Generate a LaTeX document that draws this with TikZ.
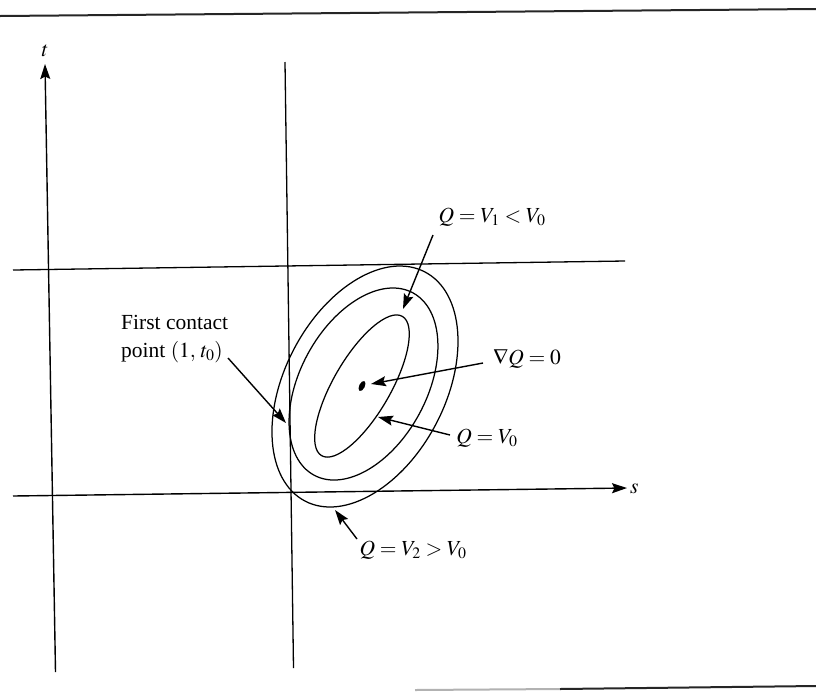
\documentclass[tikz,border=0pt]{standalone}
\usepackage{mathptmx}
\usepackage{fontspec}
\setmainfont{Liberation Serif}
\usetikzlibrary{arrows.meta}
\begin{document}
\begin{tikzpicture}[x=1pt,y=1pt,
  thinline/.style={line width=1.3pt, black},
  curve/.style={line width=1.25pt, black},
  pointer/.style={line width=1.4pt, -{Stealth[length=15pt,width=10pt,inset=2.5pt]}},
  axisarrow/.style={line width=1.4pt, -{Stealth[length=15pt,width=10pt,inset=2.5pt]}},
  lbl/.style={inner sep=0pt, font=\fontsize{21.5}{28}\selectfont}]
\useasboundingbox (0,0) rectangle (816,-697);
\fill[white] (0,0) rectangle (816,-697);

% page rules
\coordinate (tl) at (0,-16); \coordinate (tr) at (816,-9);
\draw[line width=2pt, black!85] (tl) -- (tr);
\coordinate (bl) at (415,-690); \coordinate (bm) at (560,-689); \coordinate (br) at (816,-686);
\draw[line width=2pt, black!30] (bl) -- (bm);
\draw[line width=2pt, black!85] (bm) -- (br);

% axes and lines
\coordinate (tbot) at (55.5,-672); \coordinate (ttip) at (45,-64);
\draw[axisarrow] (tbot) -- (ttip);
\node[lbl, anchor=south] (tlab) at (45,-57) {$t$};

\coordinate (sleft) at (13,-496); \coordinate (stip) at (627,-488);
\draw[axisarrow] (sleft) -- (stip);
\node[lbl, anchor=west] (slab) at (630,-489) {$s$};

\coordinate (vtop) at (285,-62); \coordinate (vbot) at (293.5,-668);
\draw[thinline] (vtop) -- (vbot);
\coordinate (hleft) at (13,-270); \coordinate (hright) at (625,-261);
\draw[thinline] (hleft) -- (hright);

% level curves
\coordinate (c1) at (365,-386.5);
\draw[curve, rotate around={62.4:(c1)}] (c1) ellipse [x radius=129.3pt, y radius=80.3pt];
\coordinate (c2) at (363.5,-384);
\draw[curve, rotate around={61.5:(c2)}] (c2) ellipse [x radius=103.7pt, y radius=63.3pt];
\coordinate (c3) at (362,-386);
\draw[curve, rotate around={59.9:(c3)}] (c3) ellipse [x radius=80.5pt, y radius=28.5pt];
\coordinate (dot) at (362,-386);
\fill[rotate around={64:(dot)}] (dot) ellipse [x radius=5.5pt, y radius=2.8pt];

% labels
\node[lbl] (q1) at (492,-217) {$Q=V_1<V_0$};
\node[lbl] (grad) at (527,-359) {$\nabla Q=0$};
\node[lbl] (q0) at (487,-438) {$Q=V_0$};
\node[lbl] (q2) at (413,-550) {$Q=V_2>V_0$};
\node[lbl, anchor=north west, align=left] (fc) at (121,-315) {First contact\\point $(1,\,t_0)$};

% pointers
\coordinate (a1s) at (433,-235); \coordinate (a1e) at (403,-309);
\draw[pointer] (a1s) -- (a1e);
\coordinate (a2s) at (483,-363); \coordinate (a2e) at (371,-384);
\draw[pointer] (a2s) -- (a2e);
\coordinate (a3s) at (450,-435); \coordinate (a3e) at (378,-417);
\draw[pointer] (a3s) -- (a3e);
\coordinate (a4s) at (357,-539); \coordinate (a4e) at (335,-510);
\draw[pointer] (a4s) -- (a4e);
\coordinate (a5s) at (228,-358); \coordinate (a5e) at (286,-423);
\draw[pointer] (a5s) -- (a5e);
\end{tikzpicture}
\end{document}
